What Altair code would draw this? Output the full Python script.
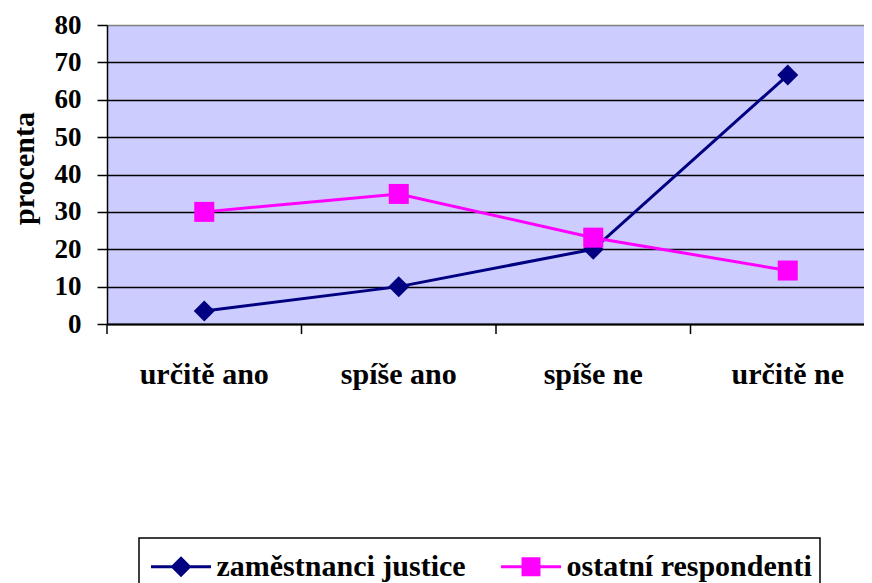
import altair as alt
import pandas as pd

categories = ["určitě ano", "spíše ano", "spíše ne", "určitě ne"]
series_names = ["zaměstnanci justice", "ostatní respondenti"]
justice = [3.5, 10, 20, 66.6]
ostatni = [30, 34.8, 23.1, 14.3]
colors = ["#000080", "#FF00FF"]
y_ticks = [0, 10, 20, 30, 40, 50, 60, 70, 80]

rows = []
for c, v in zip(categories, justice):
    rows.append({"kategorie": c, "serie": series_names[0], "procenta": v})
for c, v in zip(categories, ostatni):
    rows.append({"kategorie": c, "serie": series_names[1], "procenta": v})
df = pd.DataFrame(rows)
cat_df = pd.DataFrame({"kategorie": categories})

FONT = "Liberation Serif, Times New Roman, DejaVu Serif, serif"

D_PATH = "M-1.58,0L1.58,0M0,-0.44L0.44,0L0,0.44L-0.44,0Z"
S_PATH = "M-1.58,0L1.58,0M-0.42,-0.42L0.42,-0.42L0.42,0.42L-0.42,0.42Z"

legend = alt.Legend(
    title=None, orient="none", legendX=32, legendY=513, direction="horizontal",
    strokeColor="black", padding=8,
    labelFont=FONT, labelFontSize=30, labelFontWeight="bold", labelColor="black",
    labelLimit=1000, symbolSize=1444, symbolStrokeWidth=3, symbolOpacity=1,
    symbolOffset=13.5, labelOffset=15, columnPadding=28,
)

x_scale = alt.Scale(type="band", domain=categories, paddingInner=0, paddingOuter=0, range=[0, 778])
x_axis = alt.Axis(
    title=None, ticks=False, tickSize=0, domain=True, domainColor="black", domainWidth=2,
    labelFont=FONT, labelFontSize=30, labelFontWeight="bold", labelColor="black",
    labelPadding=35, labelAngle=0, grid=False,
)
x_enc = alt.X("kategorie:N", sort=categories, scale=x_scale, axis=x_axis)

y_enc = alt.Y(
    "procenta:Q",
    scale=alt.Scale(domain=[0, 80], nice=False, zero=True),
    axis=alt.Axis(
        values=y_ticks, title="procenta", titleFont=FONT, titleFontSize=30,
        titleFontWeight="bold", titleColor="black", titlePadding=15, titleY=143,
        labelFont=FONT, labelFontSize=27, labelFontWeight="bold", labelColor="black",
        labelPadding=16, tickSize=10, tickColor="black", tickWidth=1.5,
        domainColor="black", domainWidth=1.5, grid=True,
        gridColor={"condition": {"test": "datum.value == 80", "value": "#808080"}, "value": "black"},
        gridWidth=1.5,
    ),
)

def cscale():
    return alt.Scale(domain=series_names, range=colors)

lines = alt.Chart(df).mark_line(strokeWidth=3).encode(
    x=x_enc, y=y_enc, color=alt.Color("serie:N", scale=cscale(), legend=None), detail="serie:N"
)
points = alt.Chart(df).mark_point(filled=True, opacity=1, strokeWidth=0).encode(
    x=x_enc, y=y_enc, color=alt.Color("serie:N", scale=cscale(), legend=None),
    shape=alt.Shape("serie:N", scale=alt.Scale(domain=series_names, range=["diamond", "square"]), legend=None),
    size=alt.Size("serie:N", scale=alt.Scale(domain=series_names, range=[441, 400]), legend=None),
)
legend_layer = alt.Chart(df).transform_filter("false").mark_point(
    filled=True, opacity=1, strokeWidth=3
).encode(
    x=x_enc, y=y_enc,
    color=alt.Color("serie:N", scale=cscale(), legend=legend),
    stroke=alt.Stroke("serie:N", scale=cscale(), legend=legend),
    shape=alt.Shape("serie:N", scale=alt.Scale(domain=series_names, range=[D_PATH, S_PATH]), legend=legend),
)
ticks = alt.Chart(cat_df).mark_rule(color="black", strokeWidth=1.5).encode(
    x=alt.X("kategorie:N", sort=categories, scale=x_scale, axis=x_axis, bandPosition=0),
    y=alt.value(299), y2=alt.value(309),
)

chart = alt.layer(ticks, lines, points, legend_layer).resolve_scale(
    shape="independent", color="independent", stroke="independent"
).properties(
    width=757, height=299,
    background="white",
    autosize=alt.AutoSizeParams(type="none"),
    padding={"left": 99, "top": 17, "right": 0, "bottom": 269},
).configure_view(
    fill="#CCCCFF", stroke=None, strokeWidth=0
).configure_legend(strokeWidth=1.5)

chart.save("out.html", embed_options={"renderer": "svg", "actions": False})
